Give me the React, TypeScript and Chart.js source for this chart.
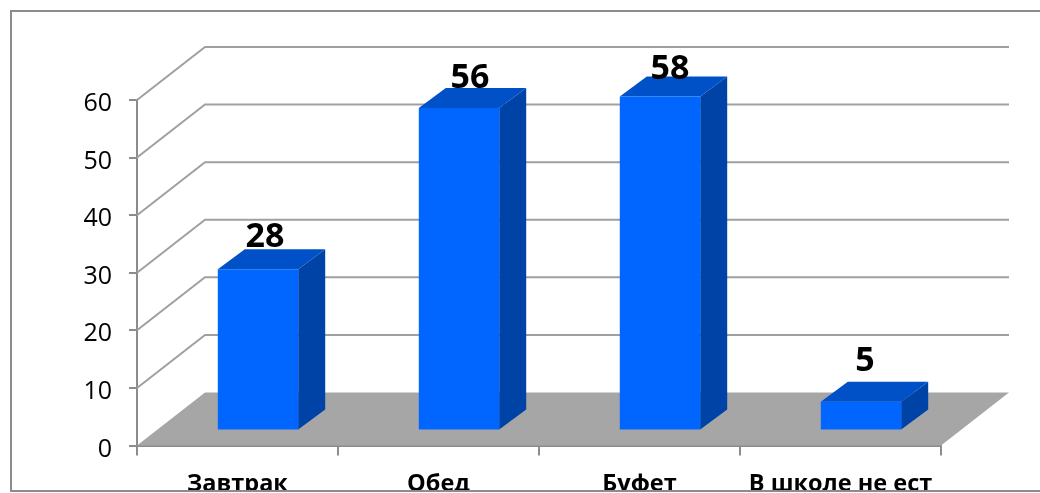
import React, { useEffect, useRef } from "react";
import { Chart, registerables } from "chart.js";

Chart.register(...registerables);

const categories = ["Завтрак", "Обед", "Буфет", "В школе не ест"];
const values = [28, 56, 58, 5];
const labelNudges = [[7, -32], [11, -30], [10, -27], [4, -40]];

const FONT = '"Open Sans", sans-serif';
const WALL = { dx: 68, dy: -53 };
const BAR_SHIFT = { dx: 20.5, dy: -15 };
const BAR_DEPTH = { dx: 27, dy: -20 };

const poly = (ctx: CanvasRenderingContext2D, pts: number[][], fill: string) => {
  ctx.beginPath();
  pts.forEach(([x, y], i) => (i ? ctx.lineTo(x, y) : ctx.moveTo(x, y)));
  ctx.closePath();
  ctx.fillStyle = fill;
  ctx.fill();
};

const walls = {
  id: "walls",
  beforeDatasetsDraw(chart: any) {
    const { ctx, chartArea: a, scales } = chart;
    const y = scales.y;
    ctx.save();
    const base = y.getPixelForValue(0);
    poly(ctx, [[a.left, base], [a.right, base], [a.right + WALL.dx, base + WALL.dy], [a.left + WALL.dx, base + WALL.dy]], "#a6a6a6");
    ctx.strokeStyle = "#a0a0a0";
    y.ticks.forEach((t: any) => {
      if (t.value === 0) return;
      const py = y.getPixelForValue(t.value);
      ctx.lineWidth = 2;
      ctx.beginPath();
      ctx.moveTo(a.left, py);
      ctx.lineTo(a.left + WALL.dx, py + WALL.dy);
      ctx.lineTo(a.right + WALL.dx, py + WALL.dy);
      ctx.stroke();
    });
    ctx.restore();
  },
};

const bars3d = {
  id: "bars3d",
  beforeDatasetsDraw(chart: any) {
    const { ctx } = chart;
    ctx.save();
    ctx.translate(BAR_SHIFT.dx, BAR_SHIFT.dy);
    chart.getDatasetMeta(0).data.forEach((el: any) => {
      const { x, y, base, width } = el.getProps(["x", "y", "base", "width"], true);
      const l = x - width / 2;
      const r = x + width / 2;
      const { dx, dy } = BAR_DEPTH;
      poly(ctx, [[r, y], [r + dx, y + dy], [r + dx, base + dy], [r, base]], "#0043a6");
      poly(ctx, [[l, y], [l + dx, y + dy], [r + dx, y + dy], [r, y]], "#0050c8");
    });
  },
  afterDatasetsDraw(chart: any) {
    const { ctx } = chart;
    ctx.restore();
    ctx.save();
    ctx.fillStyle = "#000";
    ctx.font = `bold 34px ${FONT}`;
    ctx.textAlign = "center";
    ctx.textBaseline = "middle";
    chart.getDatasetMeta(0).data.forEach((el: any, i: number) => {
      const { x, y } = el.getProps(["x", "y"], true);
      ctx.fillText(String(values[i]), x + BAR_SHIFT.dx + labelNudges[i][0], y + BAR_SHIFT.dy + labelNudges[i][1]);
    });
    ctx.restore();
  },
};

const yLabels = {
  id: "yLabels",
  afterDraw(chart: any) {
    const { ctx, scales } = chart;
    const y = scales.y;
    ctx.save();
    ctx.fillStyle = "#000";
    ctx.font = `25px ${FONT}`;
    ctx.textAlign = "right";
    ctx.textBaseline = "middle";
    y.ticks.forEach((t: any) => {
      ctx.fillText(String(t.value), y.right - 25, y.getPixelForValue(t.value) + 4);
    });
    ctx.restore();
  },
};

const frame = {
  id: "frame",
  afterDraw(chart: any) {
    const { ctx, width, height } = chart;
    ctx.save();
    ctx.fillStyle = "#fff";
    ctx.fillRect(0, 491, width, height - 491);
    ctx.strokeStyle = "#8c8c8c";
    ctx.lineWidth = 2;
    ctx.beginPath();
    ctx.moveTo(width, 11);
    ctx.lineTo(11, 11);
    ctx.lineTo(11, 491);
    ctx.lineTo(width, 491);
    ctx.stroke();
    ctx.restore();
  },
};

export default function App() {
  const ref = useRef<HTMLCanvasElement>(null);
  useEffect(() => {
    const chart = new Chart(ref.current!, {
      type: "bar",
      data: {
        labels: categories,
        datasets: [{
          data: values,
          backgroundColor: "#0066ff",
          borderWidth: 0,
          barPercentage: 0.4,
          categoryPercentage: 1,
        }],
      },
      options: {
        responsive: false,
        animation: false,
        layout: { padding: { left: 0, right: 99, top: 100, bottom: 0 } },
        plugins: { legend: { display: false }, tooltip: { enabled: false } },
        scales: {
          x: {
            afterFit: (s: any) => { s.height = 47.5; },
            grid: { drawOnChartArea: false, tickLength: 10, color: "#8c8c8c", lineWidth: 2 },
            border: { color: "#8c8c8c", width: 2 },
            ticks: { color: "#000", font: { family: FONT, size: 23.5, weight: "bold" }, padding: 15, maxRotation: 0, autoSkip: false },
          },
          y: {
            min: 0,
            max: 60,
            afterFit: (s: any) => { s.width = 137; },
            grid: { drawOnChartArea: false, tickLength: 8, color: "#8c8c8c", lineWidth: 2 },
            border: { color: "#8c8c8c", width: 2 },
            ticks: { stepSize: 10, display: false },
          },
        },
      },
      plugins: [walls, bars3d, yLabels, frame],
    } as any);
    return () => chart.destroy();
  }, []);
  return (
    <div style={{ position: "absolute", left: 0, top: 0, width: 1040, height: 493, background: "#fff", overflow: "hidden" }}>
      <canvas ref={ref} width={1040} height={493} style={{ display: "block", width: 1040, height: 493, filter: "blur(0.5px)" }} />
    </div>
  );
}
